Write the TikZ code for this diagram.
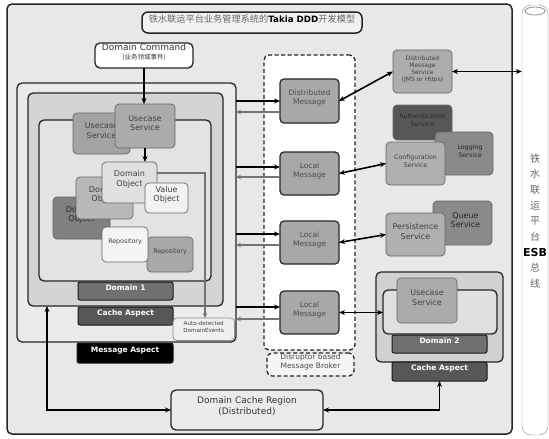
\documentclass[tikz,border=0pt]{standalone}
\usepackage{fontspec}
\setmainfont{DejaVu Sans}
\newfontfamily\cjk{Noto Sans CJK SC}
\usetikzlibrary{fit,arrows.meta}
\tikzset{
  fs/.style 2 args={font=\fontsize{#1}{#2}\selectfont},
  frame/.style={draw=black!85, line width=1.3pt, rounded corners=5pt, inner sep=0pt, outer sep=0pt},
  box/.style={draw=black!60, line width=0.7pt, rounded corners=4pt, inner sep=0pt, outer sep=0pt, align=center, text=black!75, fs={7.5}{9}},
  msgbox/.style={box, draw=black!85, line width=1.2pt, fill=black!34, text=black!70},
  tag/.style={draw=black!90, line width=1pt, rounded corners=2pt, inner sep=0pt, outer sep=0pt, text=white, font=\bfseries\fontsize{7.5}{9}\selectfont},
  arr/.style={line width=1.6pt, -{Stealth[length=6pt,width=5pt]}},
  darr/.style={line width=1.6pt, {Stealth[length=6pt,width=5pt]}-{Stealth[length=6pt,width=5pt]}},
  garr/.style={draw=black!55, line width=1.3pt, -{Stealth[length=5pt,width=4.5pt]}}
}
\begin{document}
\begin{tikzpicture}[x=1pt,y=-1pt]
\useasboundingbox (0,0) rectangle (549,439);
\node[frame, fill=black!9, line width=1.5pt, fit={(7,4)(512,434)}] (main) {};
\node[draw=black!45, fill=white, rounded corners=9pt, inner sep=0pt, fit={(522,5)(548,435)}] (esb) {};
\draw[black!45, line width=0.8pt] (535,11) ellipse (10pt and 4pt);
\node[align=center, text=black!60, font=\cjk\fontsize{10}{15.7}\selectfont] (esblbl) at (535,221) {铁\\水\\联\\运\\平\\台\\{\normalfont\bfseries\color{black}\fontsize{11}{15.7}\selectfont ESB}\\总\\线};
\node[frame, fill=black!5, line width=1.5pt, rounded corners=6pt, fit={(142,12)(362,33)}] (title) {{\cjk\fontsize{9.2}{10}\selectfont\color{black!60}铁水联运平台业务管理系统的}{\bfseries\fontsize{8.7}{10}\selectfont Takia DDD}{\cjk\fontsize{9.2}{10}\selectfont\color{black!60}开发模型}};
\node[frame, fill=white, fit={(95,43)(193,68)}, align=center, text=black!80, fs={9}{9}] (cmd) {Domain Command\\{\cjk\fontsize{6.5}{9}\selectfont (业务领域事件)}};

\node[frame, dashed, dash pattern=on 4pt off 2.5pt, fill=white, fit={(264,55)(355,350)}] (broker) {};
\node[frame, dashed, dash pattern=on 4pt off 2.5pt, fill=black!4, fit={(267,353)(354,376)}, align=center, text=black!70, fs={7.5}{9}] (brokerlbl) {Disruptor based\\Message Broker};

\node[frame, fill=black!8, fit={(17,83)(236,342)}] (msgframe) {};
\node[frame, fill=black!17, fit={(28,93)(223,306)}] (cacheframe) {};
\node[frame, fill=black!11, fit={(39,120)(211,281)}] (domframe) {};
\node[box, fill=black!36, fit={(73,113)(130,154)}, fs={8}{9.5}] (uc0) {Usecase\\Service};
\node[box, fill=black!33, fit={(115,104)(175,148)}, fs={8}{9.5}] (uc) {Usecase\\Service};
\node[box, fill=black!50, fit={(53,197)(110,239)}, fs={8}{9.5}, text=black!85] (do2) {Domain\\Object};
\node[box, fill=black!28, fit={(76,177)(133,219)}, fs={8}{9.5}] (do1) {Domain\\Object};
\node[box, fill=black!12, fit={(102,162)(157,203)}, fs={8}{9.5}] (do) {Domain\\Object};
\node[box, fill=black!5, fit={(145,183)(188,213)}, fs={8}{9.5}] (vo) {Value\\Object};
\node[box, fill=black!34, fit={(147,237)(193,272)}, fs={6.3}{7.5}] (repo1) {Repository};
\node[box, fill=black!4, fit={(102,227)(148,262)}, fs={6.3}{7.5}] (repo) {Repository};
\node[tag, fill=black!56, fit={(78,282)(173,300)}] (dom1tag) {Domain 1};
\node[tag, fill=black!66, fit={(78,307)(173,325)}] (cache1tag) {Cache Aspect};
\node[tag, fill=black, fit={(77,343)(173,363)}] (msgtag) {Message Aspect};
\node[box, draw=black!45, fill=black!6, fit={(173,318)(234.5,340.5)}, fs={5.6}{6.6}] (auto) {Auto-detected\\DomainEvents};

\node[msgbox, fit={(280,79)(339,123)}] (dist) {Distributed\\Message};
\node[msgbox, fit={(280,152)(339,195)}] (lm1) {Local\\Message};
\node[msgbox, fit={(280,221)(339,264)}] (lm2) {Local\\Message};
\node[msgbox, fit={(280,291)(339,334)}] (lm3) {Local\\Message};

\node[box, fill=black!32, fit={(393,50)(452,93)}, fs={6}{7}] (dms) {Distributed\\Message\\Service\\(JMS or Https)};
\node[box, fill=black!66, fit={(393,105)(452,140)}, fs={6.3}{7.5}, text=black!85] (auth) {Authentication\\Service};
\node[box, fill=black!46, fit={(435,132)(493,175)}, fs={6.3}{7.5}, text=black!85] (log) {\hspace*{12pt}Logging\\\hspace*{12pt}Service};
\node[box, fill=black!31, fit={(386,142)(445,185)}, fs={6.3}{7.5}] (cfg) {Configuration\\Service};
\node[box, fill=black!46, fit={(433,201)(492,245)}, fs={8}{9.5}, text=black!85] (queue) {\hspace*{6pt}Queue\\\hspace*{6pt}Service};
\node[box, fill=black!31, fit={(386,213)(445,256)}, fs={8}{9.5}] (pers) {Persistence\\Service};

\node[frame, fill=black!18, fit={(376,272)(503,362)}] (dom2cache) {};
\node[frame, fill=black!12, fit={(383,290)(497,334)}] (dom2frame) {};
\node[box, fill=black!33, fit={(397,278)(457,323)}, fs={8}{9.5}] (uc2) {Usecase\\Service};
\node[tag, fill=black!56, fit={(392,335)(487,353)}] (dom2tag) {Domain 2};
\node[tag, fill=black!66, fit={(392,362)(487,381)}] (cache2tag) {Cache Aspect};

\node[frame, fill=black!8, fit={(171,390)(323,430)}, align=center, text=black!80, fs={9}{11}] (region) {Domain Cache Region\\(Distributed)};

\coordinate (evt) at (205,173);
\draw[arr] (cmd.south) -- (cmd.south |- uc.north);
\draw[arr] (uc.south) -- (uc.south |- do.north);
\draw[garr] (do.east |- evt) -- (evt) -- (evt |- auto.north);
\foreach \m/\a/\b in {dist/101/112,lm1/167/177,lm2/234/245,lm3/307/319}{
  \draw[arr] (msgframe.east |- 0,\a) -- (\m.west |- 0,\a);
  \draw[garr] (\m.west |- 0,\b) -- (msgframe.east |- 0,\b);
}
\draw[darr] (dist.east) -- (dms.west);
\draw[darr] (dms.east) -- (esb.west |- dms.east);
\draw[darr] (lm1.east) -- (cfg.west);
\draw[darr] (lm2.east) -- (pers.west);
\draw[darr] (lm3.east) -- (lm3.east -| dom2frame.west);
\draw[darr] (47,0 |- cacheframe.south) |- (region.west);
\draw[darr] (region.east) -| (cache2tag.south);
\end{tikzpicture}
\end{document}
